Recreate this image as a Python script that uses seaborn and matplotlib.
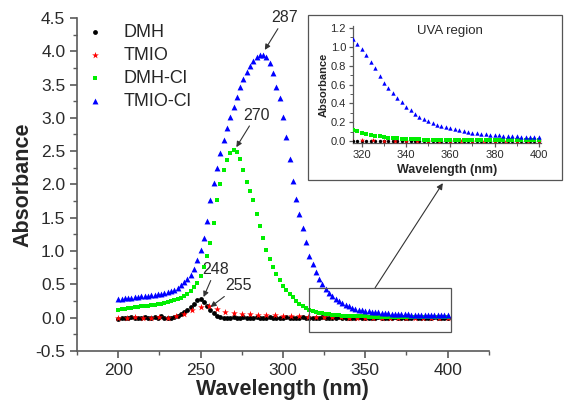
import numpy as np
import pandas as pd
import matplotlib
matplotlib.use("Agg")
import matplotlib.pyplot as plt
import seaborn as sns
from matplotlib.patches import Rectangle
from matplotlib.ticker import MultipleLocator

# ===============================
# DATA
# ===============================
wavelength = np.arange(200, 402, 2)
wavelength_tmio = np.arange(200, 405, 5)
wavelength_inset = np.arange(316, 402, 2)

dmh = [-0.02, -0.01, 0.0, -0.01, 0.01, 0.0, -0.01, 0.0, 0.01, -0.01,
       0.0, 0.01, 0.0, 0.02, 0.0, -0.01, 0.0, 0.01, 0.03, 0.05,
       0.08, 0.12, 0.16, 0.21, 0.26, 0.28, 0.24, 0.17, 0.11, 0.07,
       0.03, 0.01, 0.0, 0.0, 0.0, 0.005, 0.0, 0.0, 0.005, 0.0,
       0.0, 0.0, 0.005, 0.0, 0.0, 0.0, 0.005, 0.0, 0.0, 0.0,
       0.0, 0.005, 0.0, 0.0, 0.0, 0.0, 0.005, 0.0, 0.0, 0.0,
       0.0, 0.0, 0.005, 0.0, 0.0, 0.0, 0.0, 0.005, 0.0, 0.0,
       0.0, 0.0, 0.0, 0.005, 0.0, 0.0, 0.0, 0.0, 0.0, 0.005,
       0.0, 0.0, 0.0, 0.0, 0.005, 0.0, 0.0, 0.0, 0.0, 0.0,
       0.005, 0.0, 0.0, 0.0, 0.0, 0.0, 0.005, 0.0, 0.0, 0.0,
       0.0]

tmio = [0.0, -0.01, 0.01, 0.0, -0.01, 0.01, 0.0, 0.02, 0.05, 0.11,
        0.16, 0.17, 0.13, 0.09, 0.07, 0.06, 0.05, 0.045, 0.04, 0.035,
        0.03, 0.025, 0.02, 0.015, 0.01, 0.01, 0.005, 0.005, 0.0, 0.0,
        0.0, 0.0, 0.0, 0.0, 0.0, 0.0, 0.0, 0.0, 0.0, 0.0,
        0.0]

dmh_cl = [0.12, 0.125, 0.13, 0.14, 0.15, 0.16, 0.165, 0.17, 0.175, 0.18,
          0.19, 0.195, 0.20, 0.21, 0.22, 0.23, 0.245, 0.26, 0.28, 0.30,
          0.32, 0.35, 0.40, 0.46, 0.52, 0.63, 0.76, 0.93, 1.12, 1.42,
          1.77, 2.00, 2.22, 2.36, 2.47, 2.52, 2.48, 2.38, 2.22, 2.04,
          1.90, 1.77, 1.56, 1.38, 1.19, 1.01, 0.88, 0.76, 0.65, 0.56,
          0.48, 0.41, 0.35, 0.31, 0.25, 0.21, 0.17, 0.14, 0.12, 0.10,
          0.085, 0.075, 0.065, 0.055, 0.048, 0.042, 0.037, 0.033, 0.03, 0.027,
          0.025, 0.023, 0.021, 0.02, 0.019, 0.018, 0.017, 0.016, 0.015, 0.015,
          0.014, 0.014, 0.013, 0.013, 0.012, 0.012, 0.012, 0.011, 0.011, 0.011,
          0.010, 0.010, 0.010, 0.010, 0.010, 0.010, 0.010, 0.010, 0.010, 0.010,
          0.010]

tmio_cl = [0.28, 0.285, 0.29, 0.295, 0.30, 0.31, 0.315, 0.32, 0.325, 0.33,
           0.34, 0.345, 0.35, 0.36, 0.37, 0.38, 0.40, 0.42, 0.45, 0.49,
           0.53, 0.58, 0.64, 0.73, 0.86, 1.01, 1.20, 1.45, 1.77, 2.02,
           2.25, 2.47, 2.67, 2.85, 3.01, 3.16, 3.31, 3.46, 3.58, 3.69,
           3.78, 3.85, 3.91, 3.95, 3.95, 3.91, 3.82, 3.68, 3.46, 3.30,
           3.02, 2.71, 2.38, 2.05, 1.78, 1.55, 1.34, 1.13, 0.93, 0.80,
           0.68, 0.58, 0.50, 0.43, 0.37, 0.32, 0.28, 0.25, 0.22, 0.19,
           0.17, 0.15, 0.135, 0.12, 0.11, 0.10, 0.095, 0.09, 0.085, 0.08,
           0.075, 0.07, 0.066, 0.062, 0.058, 0.055, 0.052, 0.05, 0.048, 0.046,
           0.044, 0.042, 0.041, 0.04, 0.039, 0.038, 0.037, 0.036, 0.035, 0.035,
           0.034]

# inset curves (UVA region, as drawn in the inset)
inset_dmh_cl = [0.12, 0.105, 0.09, 0.078, 0.067, 0.058, 0.05, 0.043, 0.037, 0.032,
                0.028, 0.025, 0.022, 0.02, 0.019, 0.018, 0.017, 0.016, 0.015, 0.014,
                0.014, 0.013, 0.013, 0.012, 0.012, 0.011, 0.011, 0.011, 0.010, 0.010,
                0.010, 0.010, 0.009, 0.009, 0.009, 0.009, 0.009, 0.008, 0.008, 0.008,
                0.008, 0.008, 0.008]
inset_tmio_cl = [1.08, 1.03, 0.98, 0.91, 0.84, 0.77, 0.69, 0.62, 0.56, 0.51,
                 0.46, 0.41, 0.36, 0.33, 0.29, 0.26, 0.235, 0.21, 0.19, 0.175,
                 0.16, 0.15, 0.14, 0.125, 0.115, 0.105, 0.095, 0.088, 0.082, 0.077,
                 0.072, 0.068, 0.064, 0.06, 0.057, 0.054, 0.052, 0.05, 0.048, 0.047,
                 0.046, 0.045, 0.044]

assert len(dmh) == len(wavelength) == len(dmh_cl) == len(tmio_cl)
assert len(tmio) == len(wavelength_tmio)
assert len(inset_dmh_cl) == len(inset_tmio_cl) == len(wavelength_inset)

df_dmh = pd.DataFrame({"wl": wavelength, "abs": dmh})
df_tmio = pd.DataFrame({"wl": wavelength_tmio, "abs": tmio})
df_dmh_cl = pd.DataFrame({"wl": wavelength, "abs": dmh_cl})
df_tmio_cl = pd.DataFrame({"wl": wavelength, "abs": tmio_cl})
df_in_dmh_cl = pd.DataFrame({"wl": wavelength_inset, "abs": inset_dmh_cl})
df_in_tmio_cl = pd.DataFrame({"wl": wavelength_inset, "abs": inset_tmio_cl})

# ===============================
# STYLE
# ===============================
sns.set_style("ticks")
plt.rcParams["font.family"] = ["Liberation Sans", "DejaVu Sans"]
axis_grey = "#5a5a5a"
text_grey = "#2a2a2a"

fig = plt.figure(figsize=(5.67, 4.07), dpi=100)
ax = fig.add_axes([0.136, 0.1376, 0.726, 0.8184])

series = [
    (df_dmh, "DMH", "black", "o", 12),
    (df_tmio, "TMIO", "red", "*", 26),
    (df_dmh_cl, "DMH-Cl", "#00ee00", "s", 12),
    (df_tmio_cl, "TMIO-Cl", "#0000ff", "^", 18),
]
for d, name, col, mk, s in series:
    sns.scatterplot(data=d, x="wl", y="abs", ax=ax, color=col, marker=mk,
                    s=s, linewidth=0, label=name, zorder=3)

ax.set_xlim(175, 425)
ax.set_ylim(-0.5, 4.5)
ax.xaxis.set_minor_locator(MultipleLocator(25))
ax.yaxis.set_minor_locator(MultipleLocator(0.25))
ax.set_xticks([200, 250, 300, 350, 400])
ax.set_yticks(np.arange(-0.5, 4.51, 0.5))
ax.set_yticklabels([f"{v:.1f}" for v in np.arange(-0.5, 4.51, 0.5)])
for sp in ["top", "right"]:
    ax.spines[sp].set_visible(False)
for sp in ["left", "bottom"]:
    ax.spines[sp].set_color(axis_grey)
    ax.spines[sp].set_linewidth(1.2)
ax.tick_params(which="major", direction="out", length=5, width=1.2,
               color=axis_grey, labelsize=12.5, labelcolor=text_grey)
ax.tick_params(which="minor", direction="out", length=3, width=1.0, color=axis_grey)
ax.set_xlabel("Wavelength (nm)", fontsize=15.5, fontweight="bold", labelpad=1)
ax.set_ylabel("Absorbance", fontsize=15.5, fontweight="bold", labelpad=1)

leg = ax.legend(loc="upper left", bbox_to_anchor=(-0.04, 1.03), frameon=False,
                fontsize=13, handletextpad=0.6, labelspacing=0.33, markerscale=1.0)

# peak labels
arrow = dict(arrowstyle="-|>", color="#333333", lw=0.8, mutation_scale=8, shrinkA=0, shrinkB=0)
ax.annotate("287", xy=(289, 4.02), xytext=(301, 4.5), ha="center", va="center",
            fontsize=11.5, color=text_grey, arrowprops=arrow)
ax.annotate("270", xy=(271.7, 2.56), xytext=(283.7, 3.04), ha="center", va="center",
            fontsize=11.5, color=text_grey, arrowprops=arrow)
ax.annotate("248", xy=(251.8, 0.31), xytext=(259, 0.72), ha="center", va="center",
            fontsize=11.5, color=text_grey, arrowprops=arrow)
ax.annotate("255", xy=(256, 0.16), xytext=(273, 0.48), ha="center", va="center",
            fontsize=11.5, color=text_grey, arrowprops=arrow)

# zoom box on the main plot
ax.add_patch(Rectangle((316, -0.21), 86, 0.66, fill=False, edgecolor="#555555",
                       lw=0.9, zorder=4))
ax.annotate("", xy=(0.781, 0.550), xycoords="figure fraction",
            xytext=(356, 0.45), textcoords="data",
            arrowprops=dict(arrowstyle="-|>", color="#333333", lw=0.8,
                            mutation_scale=9, shrinkA=0, shrinkB=0))

# inset frame
fig.patches.append(Rectangle((308 / 567, 1 - 180 / 407), 254 / 567, 165 / 407,
                             transform=fig.transFigure, fill=False,
                             edgecolor="#555555", lw=0.9, zorder=5))

# ===============================
# INSET
# ===============================
axin = fig.add_axes([0.6226, 0.6486, 0.3316, 0.2875])
inset_series = [
    (df_dmh[df_dmh["wl"] >= 316], "black", "o", 6),
    (df_tmio[df_tmio["wl"] >= 315], "red", "*", 14),
    (df_in_dmh_cl, "#00ee00", "s", 7),
    (df_in_tmio_cl, "#0000ff", "^", 10),
]
for d, col, mk, s in inset_series:
    sns.scatterplot(data=d, x="wl", y="abs", ax=axin, color=col, marker=mk,
                    s=s, linewidth=0, legend=False, zorder=3)
axin.set_xlim(316, 401)
axin.set_ylim(-0.02, 1.22)
axin.set_xticks([320, 340, 360, 380, 400])
axin.set_yticks([0.0, 0.2, 0.4, 0.6, 0.8, 1.0, 1.2])
axin.set_yticklabels(["0.0", "0.2", "0.4", "0.6", "0.8", "1.0", "1.2"])
axin.xaxis.set_minor_locator(MultipleLocator(10))
axin.yaxis.set_minor_locator(MultipleLocator(0.1))
axin.patch.set_alpha(0)
for sp in ["top", "right"]:
    axin.spines[sp].set_visible(False)
for sp in ["left", "bottom"]:
    axin.spines[sp].set_color(axis_grey)
    axin.spines[sp].set_linewidth(0.9)
axin.tick_params(which="major", direction="out", length=3, width=0.9,
                 color=axis_grey, labelsize=8, labelcolor=text_grey, pad=2)
axin.tick_params(which="minor", direction="out", length=2, width=0.7, color=axis_grey)
axin.set_xlabel("Wavelength (nm)", fontsize=9, fontweight="bold", labelpad=3)
axin.set_ylabel("Absorbance", fontsize=8, fontweight="bold", labelpad=1)
axin.text(0.516, 0.96, "UVA region", transform=axin.transAxes, ha="center",
          va="center", fontsize=9.5, color=text_grey)

fig.savefig("out.png", dpi=100)
